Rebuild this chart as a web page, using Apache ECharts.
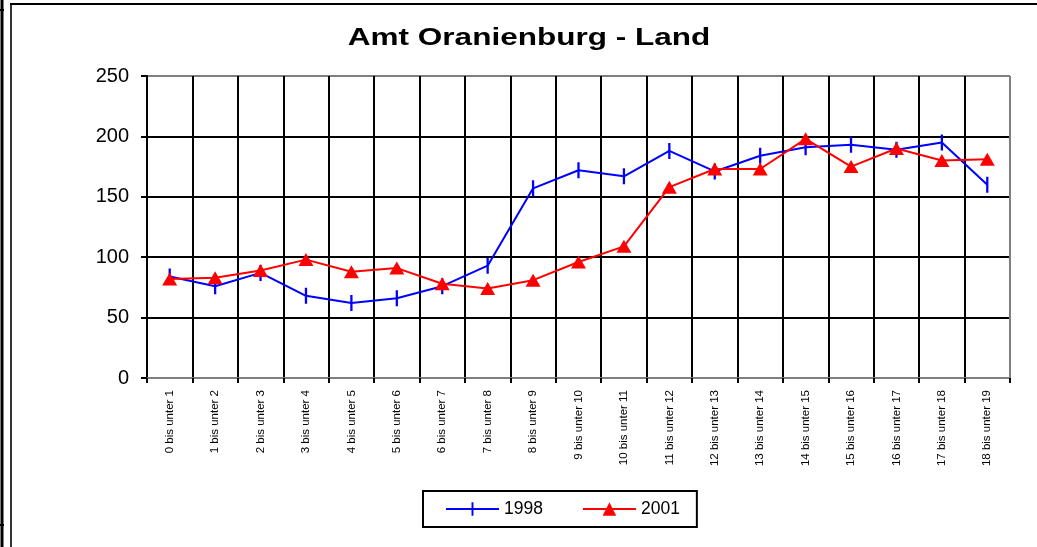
<!DOCTYPE html>
<html>
<head>
<meta charset="utf-8">
<script src="https://cdn.jsdelivr.net/npm/echarts@6/dist/echarts.min.js"></script>
<style>
  html, body { margin: 0; padding: 0; background: #fff; }
  #chart1 { width: 1037px; height: 547px; }
</style>
</head>
<body>
<div id="chart1"></div>
<script>
// Daten
const categories = [
  '0 bis unter 1', '1 bis unter 2', '2 bis unter 3', '3 bis unter 4', '4 bis unter 5',
  '5 bis unter 6', '6 bis unter 7', '7 bis unter 8', '8 bis unter 9', '9 bis unter 10',
  '10 bis unter 11', '11 bis unter 12', '12 bis unter 13', '13 bis unter 14', '14 bis unter 15',
  '15 bis unter 16', '16 bis unter 17', '17 bis unter 18', '18 bis unter 19'
]
const values1998 = [84, 76, 87, 68, 62, 66, 76, 93, 157, 172, 167, 188, 171, 184, 191, 193, 189, 195, 160]
const values2001 = [82, 83, 89, 98, 88, 91, 78, 74, 81, 96, 109, 158, 173, 173, 198, 175, 190, 180, 181]
const yMin = 0
const yMax = 250
const yStep = 50

const FONT = 'Liberation Sans, Arial, sans-serif'
// senkrechter Strich als Marker (quadratische Box, damit er auch in der Legende schmal bleibt)
const TICK_SYMBOL = 'path://M0,0 L0,0 Z M3,0 H4 V7 H3 Z M7,7 L7,7 Z'

let myChart = echarts.init(document.getElementById('chart1'))

// Rasterlinien schwarz, Rand der Zeichenfläche grau
let yLineColors = []
for (let v = yMin; v <= yMax; v += yStep) {
  yLineColors.push(v === yMax || v === yMin ? '#808080' : '#000')
}
let xLineColors = categories.map(() => '#000')
xLineColors.push('#808080')

let option = {
  animation: false,
  backgroundColor: '#fff',
  textStyle: { fontFamily: FONT },
  graphic: [
    // Rahmen
    { type: 'line', shape: { x1: 2, y1: 0, x2: 2, y2: 547 }, style: { stroke: '#000', lineWidth: 3 } },
    { type: 'line', shape: { x1: 0, y1: 10, x2: 4, y2: 10 }, style: { stroke: '#000', lineWidth: 2 } },
    { type: 'line', shape: { x1: 0, y1: 525, x2: 4, y2: 525 }, style: { stroke: '#000', lineWidth: 2 } },
    { type: 'line', shape: { x1: 11, y1: 4, x2: 11, y2: 547 }, style: { stroke: '#333', lineWidth: 2 } },
    { type: 'line', shape: { x1: 10, y1: 4, x2: 1037, y2: 4 }, style: { stroke: '#000', lineWidth: 2 } },
    // Titel (im Original horizontal gestreckt)
    {
      type: 'text',
      x: 529,
      y: 39,
      scaleX: 1.37,
      style: {
        text: 'Amt Oranienburg - Land',
        font: 'bold 23px ' + FONT,
        fill: '#000',
        textAlign: 'center',
        textVerticalAlign: 'middle'
      }
    }
  ],
  grid: {
    left: 147,
    right: 27,
    top: 76,
    bottom: 169,
    containLabel: false
  },
  legend: {
    left: 423,
    top: 491,
    data: ['1998', '2001'],
    orient: 'horizontal',
    itemWidth: 53,
    itemHeight: 17,
    itemGap: 39,
    padding: [9, 17, 9, 22],
    borderColor: '#000',
    borderWidth: 2,
    borderRadius: 0,
    backgroundColor: '#fff',
    textStyle: { fontSize: 17.5, color: '#000', fontFamily: FONT }
  },
  xAxis: {
    type: 'category',
    data: categories,
    boundaryGap: true,
    axisLine: { show: true, lineStyle: { color: '#808080', width: 2 } },
    axisTick: { show: true, length: 5, lineStyle: { color: '#000', width: 2 } },
    splitLine: { show: true, lineStyle: { color: xLineColors, width: 2 } },
    axisLabel: {
      interval: 0,
      rotate: 90,
      margin: 12,
      fontSize: 11.5,
      color: '#000',
      fontFamily: FONT,
      padding: [0, 0, 9, 0]
    }
  },
  yAxis: {
    type: 'value',
    min: yMin,
    max: yMax,
    interval: yStep,
    axisLine: { show: true, lineStyle: { color: '#000', width: 2 } },
    axisTick: { show: true, length: 6, lineStyle: { color: '#000', width: 2 } },
    splitLine: { show: true, lineStyle: { color: yLineColors, width: 2 } },
    axisLabel: { fontSize: 20, color: '#000', margin: 18, fontFamily: FONT }
  },
  series: [
    {
      name: '1998',
      type: 'line',
      data: values1998,
      color: '#0000ff',
      symbol: TICK_SYMBOL,
      symbolSize: 16,
      lineStyle: { color: '#0000ff', width: 2 },
      itemStyle: { color: '#0000ff' }
    },
    {
      name: '2001',
      type: 'line',
      data: values2001,
      color: '#ff0000',
      symbol: 'triangle',
      symbolSize: [15, 13],
      lineStyle: { color: '#ff0000', width: 2 },
      itemStyle: { color: '#ff0000' }
    }
  ]
}

option && myChart.setOption(option)
</script>
</body>
</html>
